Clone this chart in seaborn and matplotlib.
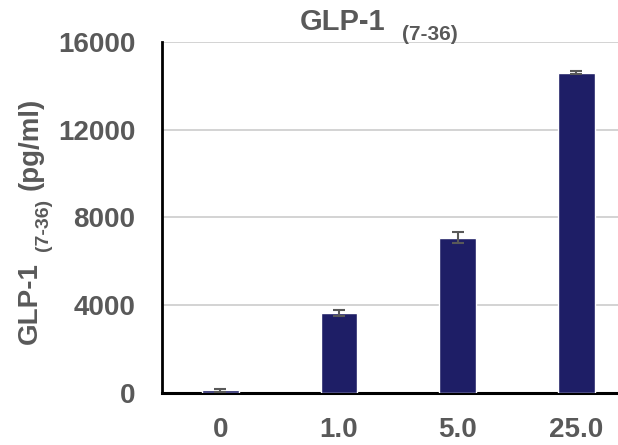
import pandas as pd
import numpy as np
import matplotlib
matplotlib.use("Agg")
import matplotlib.pyplot as plt
import seaborn as sns

"""Data read off the chart"""
doses = ["0", "1.0", "5.0", "25.0"]
glp1_mean = [120, 3650, 7075, 14600]
glp1_err = [60, 130, 250, 60]
yticks = [0, 4000, 8000, 12000, 16000]

df = pd.DataFrame({"dose": doses, "glp1": glp1_mean, "err": glp1_err})

sns.set_style("white")
plt.rcParams["font.family"] = ["Liberation Sans", "DejaVu Sans"]
plt.rcParams["font.weight"] = "bold"

grey = "#595959"
bar_color = "#1e1e66"

fig = plt.figure(figsize=(6.18, 4.45), dpi=100)
ax = fig.add_axes([162 / 618, 52 / 445, 1 - 162 / 618, 351 / 445])

sns.barplot(data=df, x="dose", y="glp1", color=bar_color, width=0.31,
            errorbar=None, saturation=1, ax=ax, zorder=3)
ax.errorbar(np.arange(len(doses)), df["glp1"], yerr=df["err"], fmt="none",
            ecolor=grey, elinewidth=1.5, capsize=4, capthick=1.5, zorder=4)

ax.set_ylim(0, 16000)
ax.set_xlim(-0.49, 3.35)
ax.set_yticks(yticks)
ax.set_yticklabels([str(v) for v in yticks])

# light horizontal gridlines behind the bars
ax.hlines(yticks[1:], -0.49, 3.35, colors="#d0d0d0", linewidth=1.3, zorder=0.5)

ax.tick_params(axis="both", length=0, labelsize=20, labelcolor=grey)
ax.tick_params(axis="y", pad=19)
ax.tick_params(axis="x", pad=17)
for lab in ax.get_xticklabels() + ax.get_yticklabels():
    lab.set_fontweight("bold")

for side in ["top", "right"]:
    ax.spines[side].set_visible(False)
ax.spines["left"].set_color("black")
ax.spines["left"].set_linewidth(2)
ax.spines["bottom"].set_color("black")
ax.spines["bottom"].set_linewidth(2.2)
ax.set_xlabel("")
ax.set_ylabel("")

# title with subscript
fig.text(300 / 618, 1 - 22 / 445, "GLP-1", fontsize=21, fontweight="bold",
         color=grey, ha="left", va="center")
fig.text(402 / 618, 1 - 35 / 445, "(7-36)", fontsize=15, fontweight="bold",
         color=grey, ha="left", va="center")

# y label with subscript
fig.text(30 / 618, 1 - 303 / 445, "GLP-1", fontsize=20, fontweight="bold",
         color=grey, rotation=90, ha="center", va="center")
fig.text(43 / 618, 1 - 225 / 445, "(7-36)", fontsize=14, fontweight="bold",
         color=grey, rotation=90, ha="center", va="center")
fig.text(31 / 618, 1 - 144 / 445, "(pg/ml)", fontsize=20, fontweight="bold",
         color=grey, rotation=90, ha="center", va="center")

plt.savefig("out.png", dpi=100)
